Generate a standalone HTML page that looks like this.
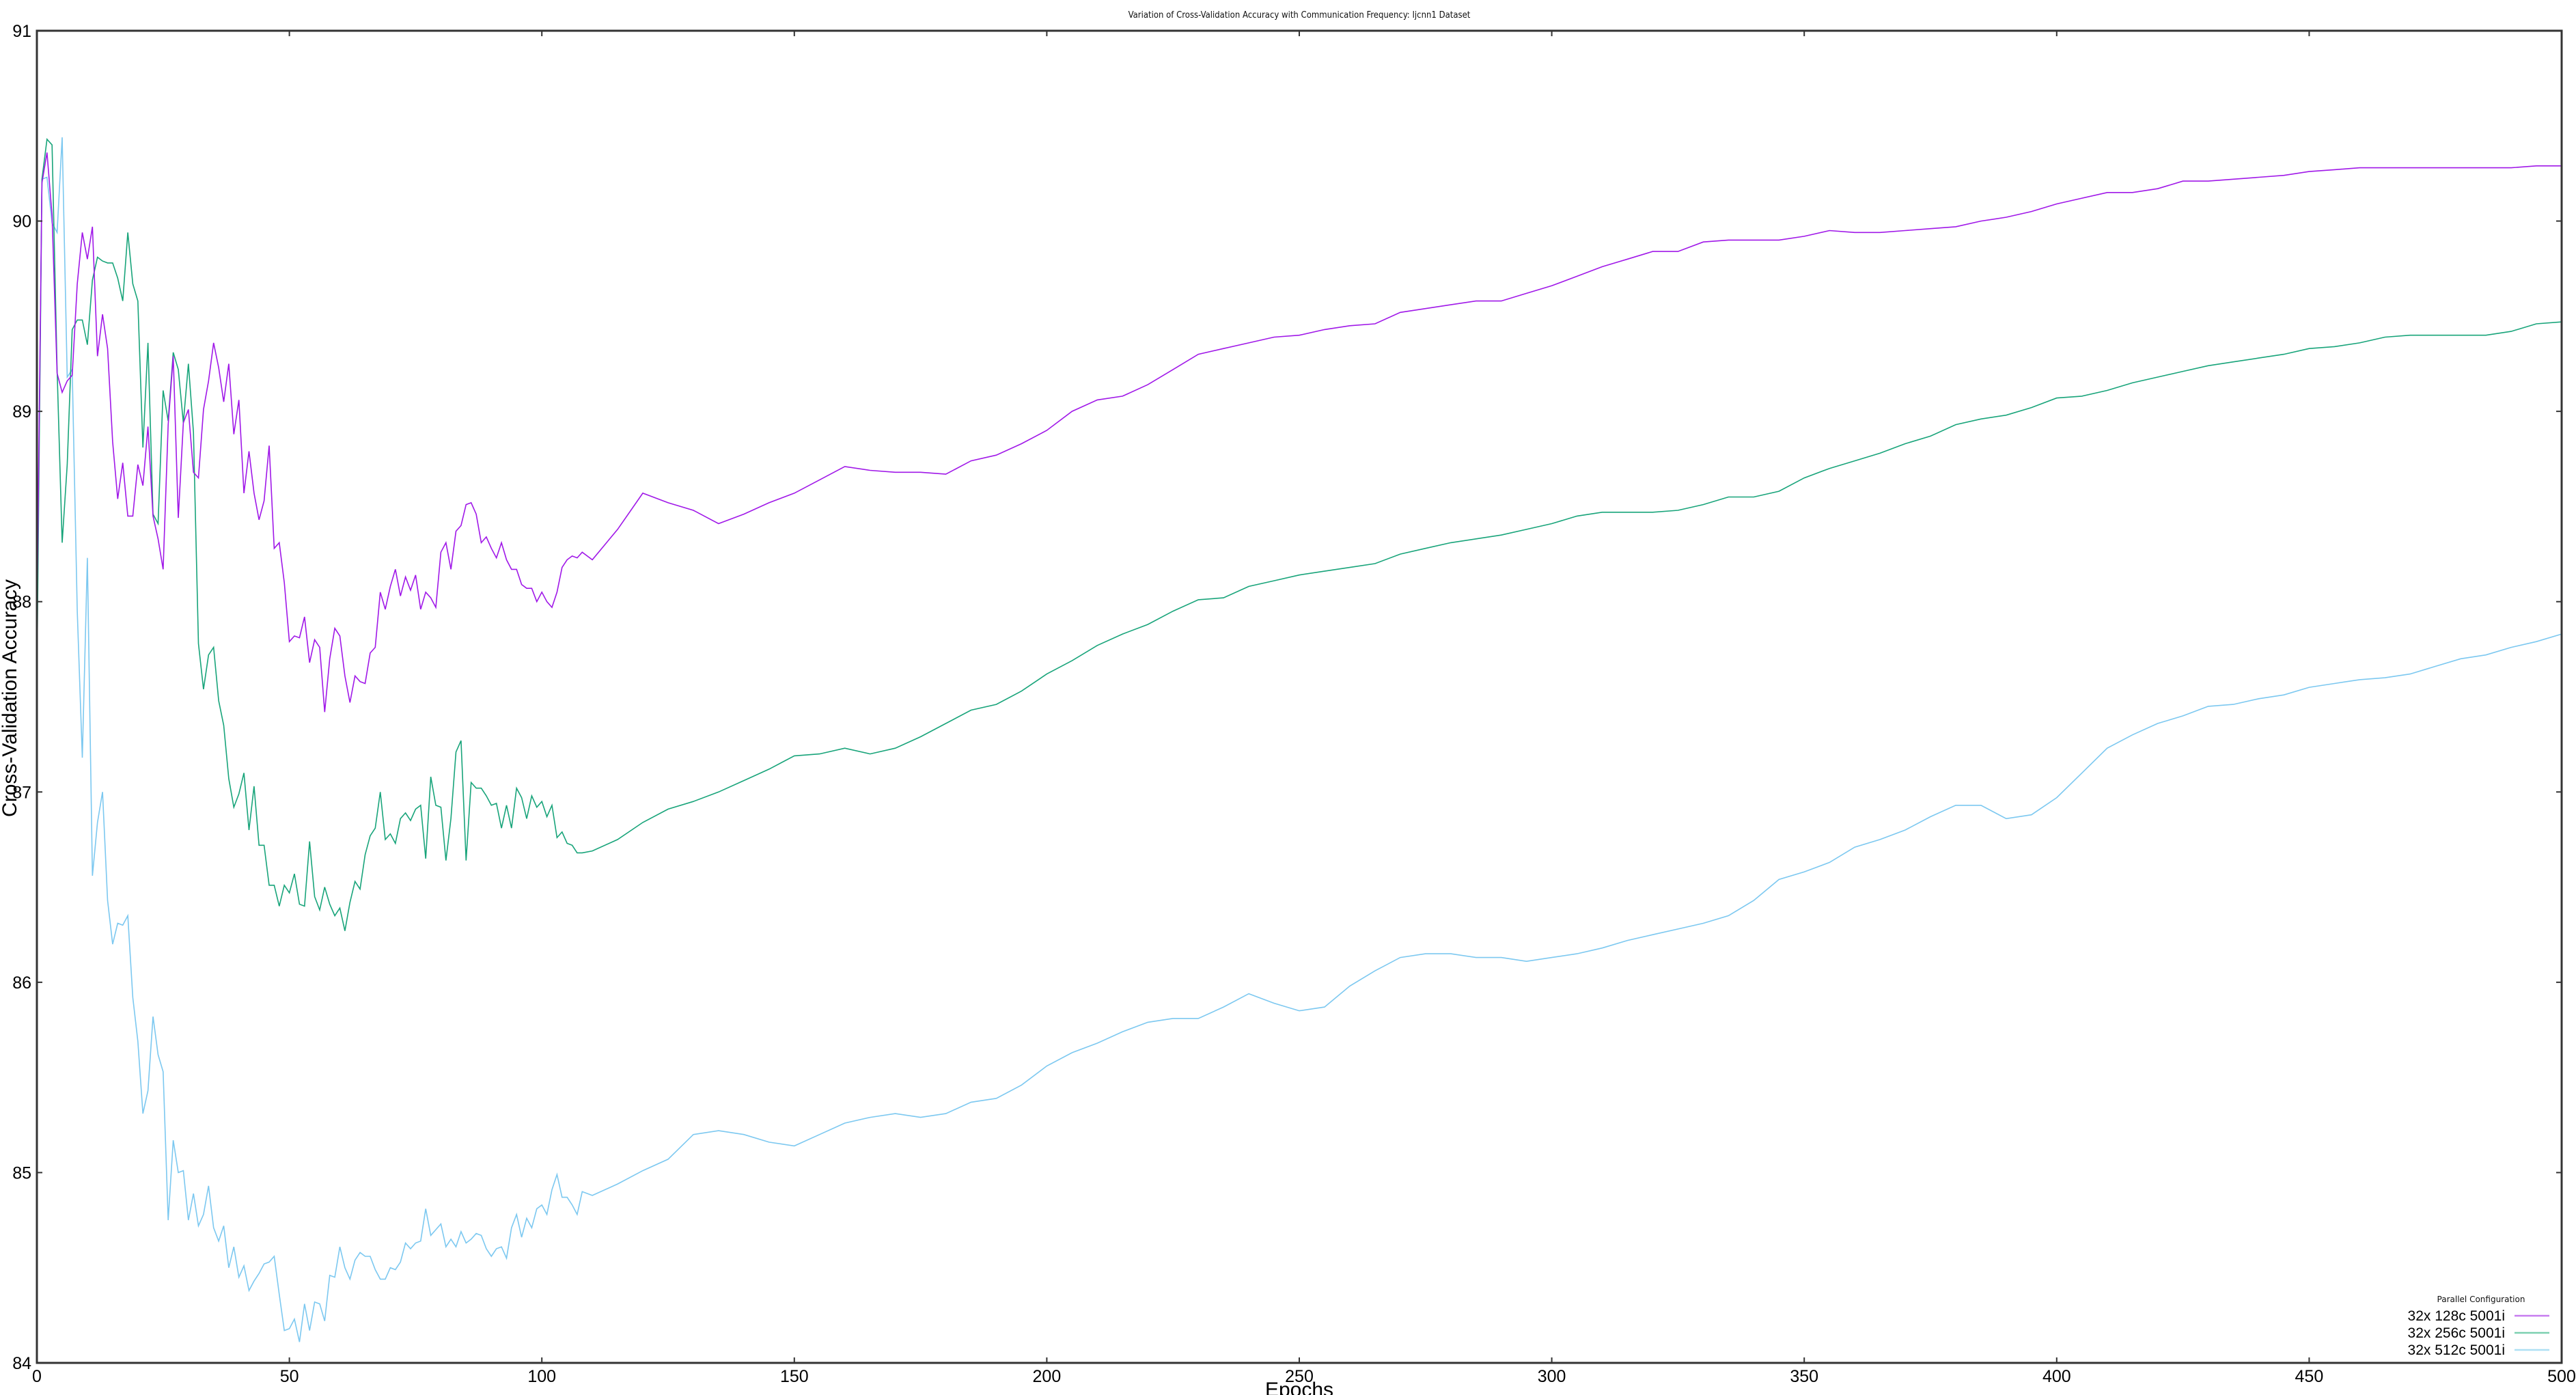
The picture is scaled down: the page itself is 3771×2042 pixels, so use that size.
<!DOCTYPE html>
<html><head><meta charset="utf-8"><style>
html,body{margin:0;padding:0;background:#fff;}
svg{display:block;font-family:"Liberation Sans",sans-serif;}
</style></head><body>
<svg id="chart" width="3771" height="2042" viewBox="0 0 3771 2042" xmlns="http://www.w3.org/2000/svg">
<rect x="0" y="0" width="3771" height="2042" fill="#fff"/>
<text x="1902" y="26" font-size="13" text-anchor="middle" fill="#111" font-family="'DejaVu Sans Condensed','Liberation Sans Narrow','Liberation Sans',sans-serif">Variation of Cross-Validation Accuracy with Communication Frequency: Ijcnn1 Dataset</text>
<g id="series"></g>
<g id="axes"></g>
<text x="1902" y="2044" font-size="30" text-anchor="middle" fill="#000">Epochs</text>
<text transform="translate(24,1022) rotate(-90)" font-size="30" text-anchor="middle" fill="#000">Cross-Validation Accuracy</text>
<g>
<text x="3632" y="1906" font-size="12" text-anchor="middle" fill="#111" font-family="'DejaVu Sans','Liberation Sans',sans-serif">Parallel Configuration</text>
<text x="3667" y="1933" font-size="21" text-anchor="end" fill="#000">32x 128c 5001i</text>
<line x1="3681" y1="1926" x2="3732" y2="1926" stroke="#c77cf0" stroke-width="2.5"/>
<text x="3667" y="1958" font-size="21" text-anchor="end" fill="#000">32x 256c 5001i</text>
<line x1="3681" y1="1951" x2="3732" y2="1951" stroke="#7cd0b0" stroke-width="2.5"/>
<text x="3667" y="1983" font-size="21" text-anchor="end" fill="#000">32x 512c 5001i</text>
<line x1="3681" y1="1976" x2="3732" y2="1976" stroke="#aee0f4" stroke-width="2.5"/>
</g>
</svg>
<script>
const epochs = [0,1,2,3,4,5,6,7,8,9,10,11,12,13,14,15,16,17,18,19,20,21,22,23,24,25,26,27,28,29,30,31,32,33,34,35,36,37,38,39,40,41,42,43,44,45,46,47,48,49,50,51,52,53,54,55,56,57,58,59,60,61,62,63,64,65,66,67,68,69,70,71,72,73,74,75,76,77,78,79,80,81,82,83,84,85,86,87,88,89,90,91,92,93,94,95,96,97,98,99,100,101,102,103,104,105,106,107,108,
110,115,120,125,130,135,140,145,150,155,160,165,170,175,180,185,190,195,200,205,210,215,220,225,230,235,240,245,250,255,260,265,270,275,280,285,290,295,300,305,310,315,320,325,330,335,340,345,350,355,360,365,370,375,380,385,390,395,400,405,410,415,420,425,430,435,440,445,450,455,460,465,470,475,480,485,490,495,500];
const acc128 = [87.9,90.2,90.36,90.03,89.2,89.1,89.16,89.19,89.67,89.94,89.8,89.97,89.29,89.51,89.33,88.84,88.54,88.73,88.45,88.45,88.72,88.61,88.92,88.45,88.33,88.17,88.93,89.29,88.44,88.94,89.01,88.68,88.65,89.01,89.16,89.36,89.23,89.05,89.25,88.88,89.06,88.57,88.79,88.57,88.43,88.53,88.82,88.28,88.31,88.1,87.79,87.82,87.81,87.92,87.68,87.8,87.76,87.42,87.7,87.86,87.82,87.61,87.47,87.61,87.58,87.57,87.73,87.76,88.05,87.96,88.08,88.17,88.03,88.13,88.06,88.14,87.96,88.05,88.02,87.97,88.26,88.31,88.17,88.37,88.4,88.51,88.52,88.46,88.31,88.34,88.28,88.23,88.31,88.22,88.17,88.17,88.09,88.07,88.07,88.0,88.05,88.0,87.97,88.05,88.18,88.22,88.24,88.23,88.26,
88.22,88.38,88.57,88.52,88.48,88.41,88.46,88.52,88.57,88.64,88.71,88.69,88.68,88.68,88.67,88.74,88.77,88.83,88.9,89.0,89.06,89.08,89.14,89.22,89.3,89.33,89.36,89.39,89.4,89.43,89.45,89.46,89.52,89.54,89.56,89.58,89.58,89.62,89.66,89.71,89.76,89.8,89.84,89.84,89.89,89.9,89.9,89.9,89.92,89.95,89.94,89.94,89.95,89.96,89.97,90.0,90.02,90.05,90.09,90.12,90.15,90.15,90.17,90.21,90.21,90.22,90.23,90.24,90.26,90.27,90.28,90.28,90.28,90.28,90.28,90.28,90.28,90.29,90.29];
const acc256 = [87.6,90.22,90.43,90.4,89.22,88.31,88.72,89.43,89.48,89.48,89.35,89.69,89.81,89.79,89.78,89.78,89.7,89.58,89.94,89.67,89.58,88.81,89.36,88.46,88.41,89.11,88.95,89.31,89.22,88.94,89.25,88.89,87.78,87.54,87.72,87.76,87.48,87.35,87.07,86.92,86.99,87.1,86.8,87.03,86.72,86.72,86.51,86.51,86.4,86.51,86.47,86.57,86.41,86.4,86.74,86.45,86.38,86.5,86.41,86.35,86.39,86.27,86.42,86.53,86.49,86.67,86.77,86.81,87.0,86.75,86.78,86.73,86.86,86.89,86.85,86.91,86.93,86.65,87.08,86.93,86.92,86.64,86.86,87.21,87.27,86.64,87.05,87.02,87.02,86.98,86.93,86.94,86.81,86.93,86.81,87.02,86.97,86.86,86.98,86.92,86.95,86.87,86.93,86.76,86.79,86.73,86.72,86.68,86.68,
86.69,86.75,86.84,86.91,86.95,87.0,87.06,87.12,87.19,87.2,87.23,87.2,87.23,87.29,87.36,87.43,87.46,87.53,87.62,87.69,87.77,87.83,87.88,87.95,88.01,88.02,88.08,88.11,88.14,88.16,88.18,88.2,88.25,88.28,88.31,88.33,88.35,88.38,88.41,88.45,88.47,88.47,88.47,88.48,88.51,88.55,88.55,88.58,88.65,88.7,88.74,88.78,88.83,88.87,88.93,88.96,88.98,89.02,89.07,89.08,89.11,89.15,89.18,89.21,89.24,89.26,89.28,89.3,89.33,89.34,89.36,89.39,89.4,89.4,89.4,89.4,89.42,89.46,89.47];
const acc512 = [87.8,90.22,90.23,89.99,89.94,90.44,89.18,89.22,87.95,87.18,88.23,86.56,86.84,87.0,86.43,86.2,86.31,86.3,86.35,85.92,85.69,85.31,85.43,85.82,85.62,85.53,84.75,85.17,85.0,85.01,84.75,84.89,84.72,84.78,84.93,84.71,84.64,84.72,84.5,84.61,84.45,84.51,84.38,84.43,84.47,84.52,84.53,84.56,84.36,84.17,84.18,84.23,84.11,84.31,84.17,84.32,84.31,84.22,84.46,84.45,84.61,84.5,84.44,84.54,84.58,84.56,84.56,84.49,84.44,84.44,84.5,84.49,84.53,84.63,84.6,84.63,84.64,84.81,84.67,84.7,84.73,84.61,84.65,84.61,84.69,84.63,84.65,84.68,84.67,84.6,84.56,84.6,84.61,84.55,84.71,84.78,84.66,84.76,84.71,84.81,84.83,84.78,84.91,84.99,84.87,84.87,84.83,84.78,84.9,
84.88,84.94,85.01,85.07,85.2,85.22,85.2,85.16,85.14,85.2,85.26,85.29,85.31,85.29,85.31,85.37,85.39,85.46,85.56,85.63,85.68,85.74,85.79,85.81,85.81,85.87,85.94,85.89,85.85,85.87,85.98,86.06,86.13,86.15,86.15,86.13,86.13,86.11,86.13,86.15,86.18,86.22,86.25,86.28,86.31,86.35,86.43,86.54,86.58,86.63,86.71,86.75,86.8,86.87,86.93,86.93,86.86,86.88,86.97,87.1,87.23,87.3,87.36,87.4,87.45,87.46,87.49,87.51,87.55,87.57,87.59,87.6,87.62,87.66,87.7,87.72,87.76,87.79,87.83];
const xTicks = [0,50,100,150,200,250,300,350,400,450,500];
const yTicks = [84,85,86,87,88,89,90,91];

const L=54,R=3750,T=45,B=1995;
const xMin=0,xMax=500,yMin=84,yMax=91;
function sx(v){return L+(v-xMin)/(xMax-xMin)*(R-L);}
function sy(v){return B-(v-yMin)/(yMax-yMin)*(B-T);}
const NS='http://www.w3.org/2000/svg';
const sg=document.getElementById('series');
function drawLine(vals,color,name){
  const p=document.createElementNS(NS,'polyline');
  p.setAttribute('points',vals.map((v,i)=>sx(epochs[i]).toFixed(1)+','+sy(v).toFixed(1)).join(' '));
  p.setAttribute('fill','none');p.setAttribute('stroke',color);p.setAttribute('stroke-width','1.6');
  
  
  sg.appendChild(p);
}
drawLine(acc512,'#7cc8f0','series-512c-line');
drawLine(acc256,'#18a47a','series-256c-line');
drawLine(acc128,'#a018e8','series-128c-line');

const ag=document.getElementById('axes');
const frame=document.createElementNS(NS,'rect');
frame.setAttribute('x',L);frame.setAttribute('y',T);frame.setAttribute('width',R-L);frame.setAttribute('height',B-T);
frame.setAttribute('fill','none');frame.setAttribute('stroke','#333');frame.setAttribute('stroke-width','3');


ag.appendChild(frame);
function tick(x1,y1,x2,y2){const l=document.createElementNS(NS,'line');l.setAttribute('x1',x1);l.setAttribute('y1',y1);l.setAttribute('x2',x2);l.setAttribute('y2',y2);l.setAttribute('stroke','#333');l.setAttribute('stroke-width','2');


ag.appendChild(l);}
xTicks.forEach(v=>{const x=sx(v);tick(x,B,x,B-8);tick(x,T,x,T+8);
  const t=document.createElementNS(NS,'text');t.setAttribute('x',x);t.setAttribute('y',B+28);t.setAttribute('font-size','25');t.setAttribute('text-anchor','middle');t.textContent=v;
  
  
  ag.appendChild(t);});
yTicks.forEach(v=>{const y=sy(v);tick(L,y,L+8,y);tick(R,y,R-8,y);
  const t=document.createElementNS(NS,'text');t.setAttribute('x',L-8);t.setAttribute('y',y+9);t.setAttribute('font-size','25');t.setAttribute('text-anchor','end');t.textContent=v;
  
  
  ag.appendChild(t);});
</script>
</body></html>
